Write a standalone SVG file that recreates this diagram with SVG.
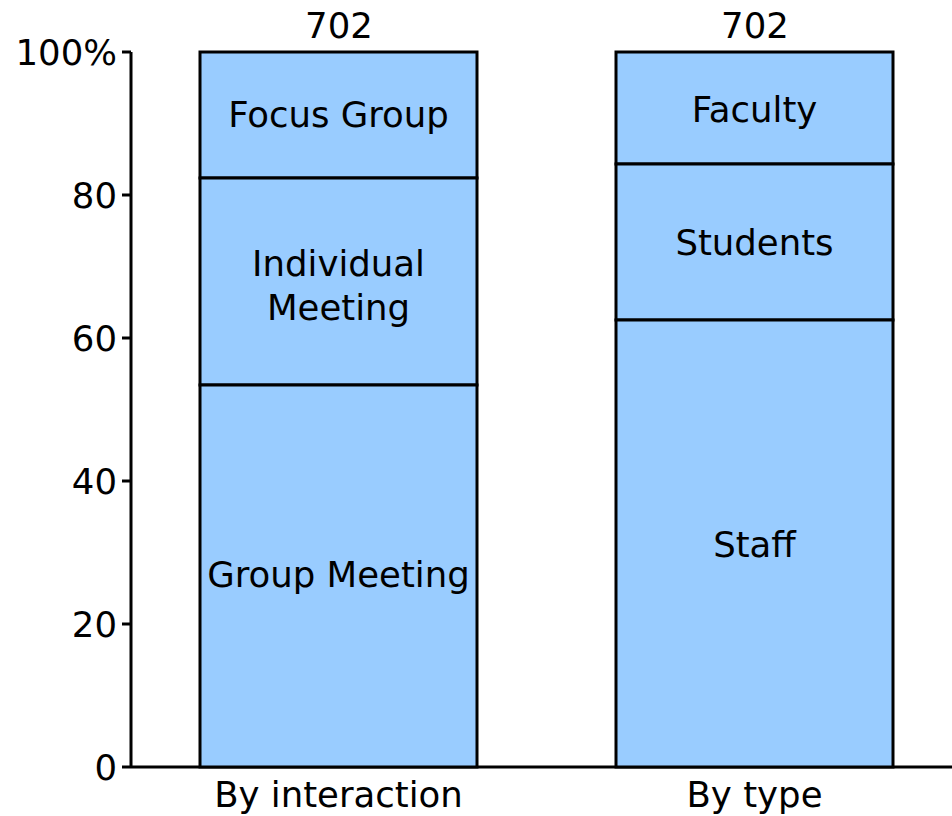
<svg xmlns="http://www.w3.org/2000/svg" width="952" height="816" viewBox="0 0 952 816">
<style>
text{font-family:"DejaVu Sans",Verdana,sans-serif;font-size:35.5px;fill:#000}
.c{text-anchor:middle}
.r{text-anchor:end}
.bar{fill:#99CCFF;stroke:#000;stroke-width:3}
.ln{stroke:#000;stroke-width:3;fill:none}
</style>
<rect width="952" height="816" fill="#fff"/>
<g id="axis">
<line class="ln" x1="131" y1="52" x2="131" y2="767"/>
<line class="ln" x1="122" y1="767" x2="952" y2="767"/>
<line class="ln" x1="122" y1="52" x2="131" y2="52"/>
<line class="ln" x1="122" y1="195" x2="131" y2="195"/>
<line class="ln" x1="122" y1="338" x2="131" y2="338"/>
<line class="ln" x1="122" y1="481" x2="131" y2="481"/>
<line class="ln" x1="122" y1="624" x2="131" y2="624"/>
<text class="r" x="117" y="65">100%</text>
<text class="r" x="117" y="208">80</text>
<text class="r" x="117" y="351">60</text>
<text class="r" x="117" y="494">40</text>
<text class="r" x="117" y="637">20</text>
<text class="r" x="117" y="780">0</text>
</g>
<g id="bar-interaction">
<rect id="focus-group" class="bar" x="200" y="52" width="277" height="126"/>
<rect id="individual-meeting" class="bar" x="200" y="178" width="277" height="207"/>
<rect id="group-meeting" class="bar" x="200" y="385" width="277" height="382"/>
<text class="c" x="338.5" y="127">Focus Group</text>
<text class="c" x="338.5" y="276">Individual</text>
<text class="c" x="338.5" y="320">Meeting</text>
<text class="c" x="338.5" y="587">Group Meeting</text>
<text class="c" x="339" y="38">702</text>
<text class="c" x="338.5" y="807">By interaction</text>
</g>
<g id="bar-type">
<rect id="faculty" class="bar" x="616" y="52" width="277" height="112"/>
<rect id="students" class="bar" x="616" y="164" width="277" height="156"/>
<rect id="staff" class="bar" x="616" y="320" width="277" height="447"/>
<text class="c" x="754.5" y="122">Faculty</text>
<text class="c" x="754.5" y="255">Students</text>
<text class="c" x="754.5" y="557">Staff</text>
<text class="c" x="755" y="38">702</text>
<text class="c" x="754.5" y="807">By type</text>
</g>
</svg>
